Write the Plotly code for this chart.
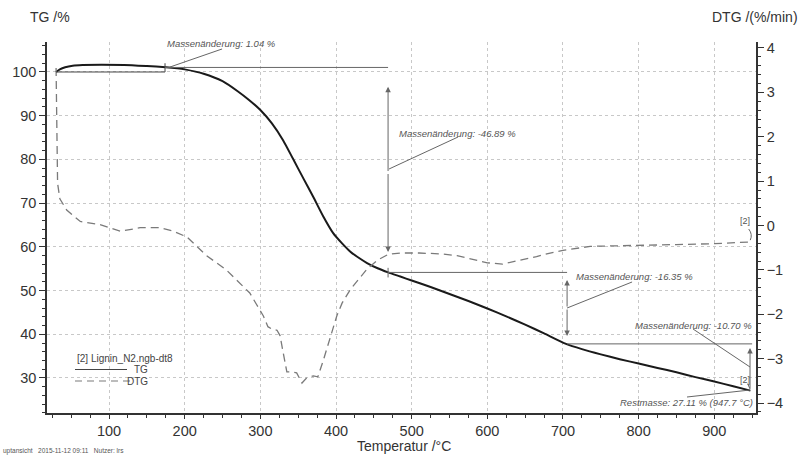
import plotly.graph_objects as go

# ---------------- data ----------------
tg_temp = [30, 35, 42, 52, 65, 90, 120, 150, 175, 190, 200, 225, 250, 270, 285, 300,
           315, 330, 343, 357, 370, 383, 396, 408, 419, 430, 441, 455, 469, 485, 500,
           525, 550, 575, 600, 625, 650, 675, 704, 725, 750, 775, 800, 825, 850, 875,
           900, 925, 947.7]
tg_val = [100.0, 100.6, 101.1, 101.45, 101.6, 101.65, 101.6, 101.35, 101.1, 100.85, 100.6,
          99.6, 97.9, 95.6, 93.6, 91.3, 88.3, 84.4, 80.2, 75.6, 71.4, 67.0, 63.2, 60.8,
          58.9, 57.5, 56.3, 55.1, 54.15, 53.2, 52.3, 50.8, 49.2, 47.6, 45.9, 44.1, 42.2,
          40.2, 37.8, 36.6, 35.4, 34.3, 33.3, 32.3, 31.3, 30.2, 29.2, 28.1, 27.11]

dtg_temp = [30, 30.5, 31, 32, 35, 44, 62, 88, 115, 141, 167, 185, 203, 229, 255, 270, 286,
            295, 304, 310, 316, 322, 326, 330, 335, 341, 348, 355, 361, 370, 376, 383,
            392, 401, 408, 419, 441, 455, 469, 485, 510, 540, 560, 580, 600, 620, 640,
            665, 683, 700, 736, 770, 802, 850, 900, 947.7]
dtg_val = [3.55, 2.6, 1.4, 0.95, 0.6, 0.35, 0.09, 0.02, -0.13, -0.05, -0.05, -0.13, -0.26,
           -0.68, -1.0, -1.25, -1.52, -1.78, -2.04, -2.28, -2.34, -2.36, -2.48, -2.85, -3.3,
           -3.3, -3.32, -3.55, -3.44, -3.39, -3.41, -3.05, -2.55, -2.04, -1.75, -1.44, -0.98,
           -0.78, -0.65, -0.62, -0.62, -0.64, -0.68, -0.76, -0.84, -0.87, -0.8, -0.7, -0.62,
           -0.56, -0.47, -0.46, -0.46, -0.43, -0.41, -0.37]

x_ticks = [100, 200, 300, 400, 500, 600, 700, 800, 900]
tg_ticks = [30, 40, 50, 60, 70, 80, 90, 100]
dtg_ticks = [-4, -3, -2, -1, 0, 1, 2, 3, 4]

# steps evaluated by the instrument software
step_temps = [174.0, 468.8, 705.4, 947.7]
step_levels = [101.04, 54.15, 37.80, 27.11]
step_labels = ["Massenänderung: 1.04 %", "Massenänderung: -46.89 %",
               "Massenänderung: -16.35 %", "Massenänderung: -10.70 %"]
rest_label = "Restmasse: 27.11 % (947.7 °C)"

FONT = "Liberation Sans, Arial, sans-serif"
INK = "#333333"
ANN = "#666666"

fig = go.Figure()
fig.add_trace(go.Scatter(x=dtg_temp, y=dtg_val, yaxis="y2", mode="lines", name="DTG",
                         line=dict(color="#7a7a7a", width=1.3, dash="8px,5px")))
fig.add_trace(go.Scatter(x=tg_temp, y=tg_val, mode="lines", name="TG",
                         line=dict(color="#1a1a1a", width=2.0, shape="spline", smoothing=0.6)))

shapes = []
annots = []

def seg(x0, y0, x1, y1, color=ANN, width=1, yref="y", dash=None):
    d = dict(type="line", xref="x", yref=yref, x0=x0, y0=y0, x1=x1, y1=y1,
             line=dict(color=color, width=width))
    if dash:
        d["line"]["dash"] = dash
    shapes.append(d)

def arrow(x, y_from, y_to):
    annots.append(dict(x=x, y=y_to, ax=x, ay=y_from, xref="x", yref="y", axref="x", ayref="y",
                       text="", showarrow=True, arrowhead=2, arrowsize=1.1, arrowwidth=1,
                       arrowcolor=ANN))

def label(x, y, text, size=9.5, yref="y", italic=True, xanchor="center"):
    annots.append(dict(x=x, y=y, xref="x", yref=yref, showarrow=False, xanchor=xanchor,
                       yanchor="middle",
                       text=("<i>%s</i>" % text) if italic else text,
                       font=dict(family=FONT, size=size, color="#555555")))

# step 1
seg(tg_temp[0], 100, step_temps[0], 100, color="#444444")
seg(step_temps[0], 100, step_temps[0], 102.0, color="#444444")
seg(step_temps[0], step_levels[0], step_temps[1], step_levels[0])
seg(249.4, 105.26, 180.6, 101.14)
label(248, 106.6, step_labels[0])

# step 2
arrow(step_temps[1], 77.0, 96.6)
arrow(step_temps[1], 77.0, 58.8)
seg(step_temps[1], step_levels[1], step_temps[2], step_levels[1])
seg(step_temps[1], 55.2, step_temps[1], 53.0)
seg(561.3, 85.13, 470.1, 77.81)
label(560, 86.04, step_labels[1])

# step 3
arrow(step_temps[2], 46.0, 52.41)
arrow(step_temps[2], 46.0, 39.6)
seg(step_temps[2], step_levels[2], 950.0, step_levels[2])
seg(791.3, 51.96, 705.4, 46.01)
label(795, 53.33, step_labels[2])

# step 4
arrow(947.2, step_levels[3] + 0.15, 36.86)
seg(871.9, 41.2, 947.2, 32.51)
label(872.5, 42.12, step_labels[3])
label(940.6, 29.6, "[2]", size=9, italic=False)
seg(944.0, 28.7, 947.2, 27.5)

# residual mass
seg(863.9, 25.65, 947.2, 27.25)
label(862.6, 24.5, rest_label)

# DTG curve label
label(940.6, 0.10, "[2]", size=9, italic=False, yref="y2")
shapes.append(dict(type="path", xref="x", yref="y2",
                   path="M 945.5 -0.08 Q 951 -0.2 947.5 -0.33",
                   line=dict(color=ANN, width=1)))

# legend (drawn like the instrument export)
def px2x(px):
    return (px - 47) / 709.0

def py2y(py):
    return (413 - py) / 371.0

def ptext(px, py, text, size, xanchor="left", color="#444444"):
    annots.append(dict(x=px2x(px), y=py2y(py), xref="paper", yref="paper", showarrow=False,
                       xanchor=xanchor, yanchor="middle", text=text,
                       font=dict(family=FONT, size=size, color=color)))

ptext(75, 358, "[2] Lignin_N2.ngb-dt8", 10)
shapes.append(dict(type="line", xref="paper", yref="paper", x0=px2x(75), x1=px2x(127),
                   y0=py2y(369.5), y1=py2y(369.5), line=dict(color="#444444", width=1)))
shapes.append(dict(type="line", xref="paper", yref="paper", x0=px2x(75), x1=px2x(130),
                   y0=py2y(381), y1=py2y(381),
                   line=dict(color="#7a7a7a", width=1.2, dash="7px,5px")))
ptext(150, 369, "TG", 10, xanchor="right")
ptext(150, 381, "DTG", 10, xanchor="right")

# titles and footer
ptext(28, 17, "TG /%", 14, color=INK)
ptext(800, 17, "DTG /(%/min)", 14, xanchor="right", color=INK)
ptext(404, 446, "Temperatur /°C", 14, xanchor="center", color=INK)
ptext(1, 451, "uptansicht&nbsp;&nbsp;&nbsp;2015-11-12 09:11&nbsp;&nbsp;&nbsp;Nutzer: lrs",
      6.5, color="#555555")

grid = dict(showgrid=True, gridcolor="#c8c8c8", gridwidth=1, griddash="dot")

fig.update_layout(
    width=803, height=456,
    margin=dict(l=47, r=47, t=42, b=43),
    paper_bgcolor="white", plot_bgcolor="white",
    showlegend=False,
    font=dict(family=FONT, size=14.5, color=INK),
    shapes=shapes, annotations=annots,
    xaxis=dict(range=[18.0, 955.1], tickvals=x_ticks, ticks="outside", ticklen=4,
               tickcolor=INK, showline=True, linecolor=INK, linewidth=1.5, zeroline=False,
               minor=dict(dtick=25, tick0=0, ticks="outside", ticklen=3, tickcolor=INK),
               **grid),
    yaxis=dict(range=[21.99, 106.86], tickvals=tg_ticks, ticks="outside", ticklen=6,
               tickcolor=INK, showline=True, linecolor=INK, linewidth=1.5, zeroline=False,
               minor=dict(dtick=2, tick0=0, ticks="outside", ticklen=3, tickcolor=INK),
               **grid),
    yaxis2=dict(range=[-4.225, 4.135], tickvals=dtg_ticks, overlaying="y", side="right",
                ticks="outside", ticklen=6, tickcolor=INK, showline=True, linecolor=INK,
                linewidth=1.5, zeroline=False, showgrid=False,
                minor=dict(dtick=0.2, tick0=0, ticks="outside", ticklen=3, tickcolor=INK)),
)

fig.write_html("out.html", config={"displayModeBar": False},
               post_script="document.body.style.margin='0';")
